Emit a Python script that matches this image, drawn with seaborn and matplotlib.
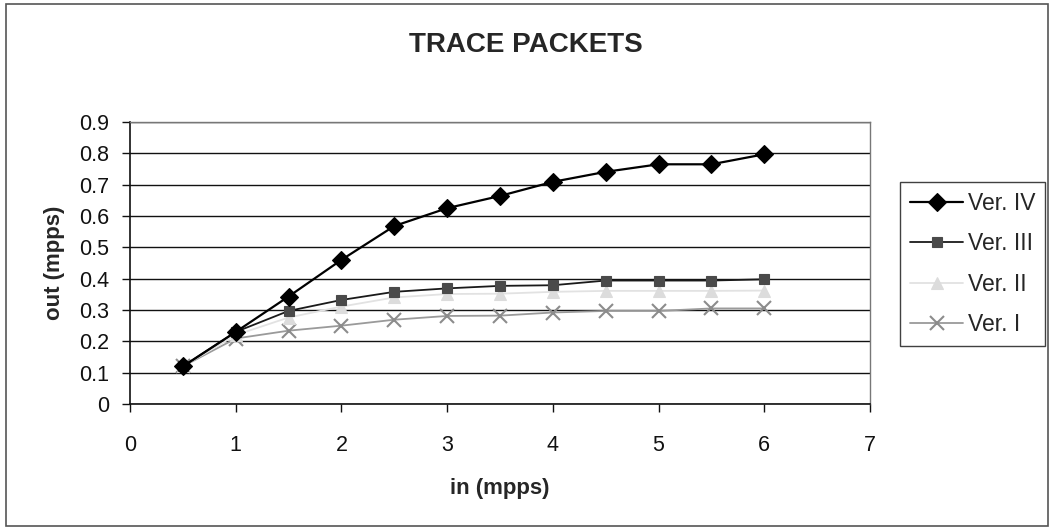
import matplotlib
matplotlib.use("Agg")
import matplotlib.pyplot as plt
import seaborn as sns
import pandas as pd
from matplotlib.patches import Rectangle

# Input rate (mpps) and measured output rate (mpps) for each version
in_mpps = [0.5, 1.0, 1.5, 2.0, 2.5, 3.0, 3.5, 4.0, 4.5, 5.0, 5.5, 6.0]
ver_iv = [0.12, 0.23, 0.343, 0.46, 0.568, 0.625, 0.664, 0.709, 0.741, 0.765, 0.765, 0.797]
ver_iii = [0.12, 0.23, 0.297, 0.332, 0.358, 0.369, 0.377, 0.379, 0.394, 0.394, 0.394, 0.398]
ver_ii = [0.12, 0.22, 0.276, 0.311, 0.34, 0.351, 0.352, 0.358, 0.361, 0.361, 0.361, 0.362]
ver_i = [0.12, 0.209, 0.234, 0.25, 0.269, 0.281, 0.282, 0.292, 0.297, 0.297, 0.305, 0.305]
series_names = ["Ver. IV", "Ver. III", "Ver. II", "Ver. I"]

df = pd.DataFrame({
    "in": in_mpps * 4,
    "out": ver_iv + ver_iii + ver_ii + ver_i,
    "version": sum([[n] * len(in_mpps) for n in series_names], []),
})

sns.set_theme(style="white")
plt.rcParams["font.family"] = ["Liberation Sans", "DejaVu Sans"]

fig = plt.figure(figsize=(10.51, 5.29), dpi=100)
ax = fig.add_axes([130 / 1051, 1 - 404 / 529, 740 / 1051, 282 / 529])

line_colors = {"Ver. IV": "#000000", "Ver. III": "#1a1a1a", "Ver. II": "#e2e2e2", "Ver. I": "#9a9a9a"}
marker_face = {"Ver. IV": "#000000", "Ver. III": "#4a4a4a", "Ver. II": "#dcdcdc", "Ver. I": "#8c8c8c"}
markers = {"Ver. IV": "D", "Ver. III": "s", "Ver. II": "^", "Ver. I": "x"}
sizes = {"Ver. IV": 9, "Ver. III": 7, "Ver. II": 8, "Ver. I": 10}

# draw back to front so the dark series sit on top
for name in ["Ver. I", "Ver. II", "Ver. III", "Ver. IV"]:
    sub = df[df["version"] == name]
    sns.lineplot(data=sub, x="in", y="out", ax=ax, color=line_colors[name],
                 marker=markers[name], markersize=sizes[name],
                 markerfacecolor=marker_face[name], markeredgecolor=marker_face[name],
                 markeredgewidth=1.5 if name == "Ver. I" else 0.8,
                 linewidth=1.6 if name == "Ver. IV" else 1.3,
                 label=name, legend=False)

ax.set_xlim(0, 7)
ax.set_ylim(0, 0.9)
ax.set_xticks(range(0, 8))
ax.set_yticks([i / 10 for i in range(10)])
ax.set_yticklabels(["0"] + [f"{i / 10:.1f}" for i in range(1, 10)])
ax.grid(axis="y", color="#111111", linewidth=1.0)
ax.grid(axis="x", visible=False)
ax.set_axisbelow(True)
for side in ["left", "bottom"]:
    ax.spines[side].set_color("#111111")
    ax.spines[side].set_linewidth(1.2)
for side in ["top", "right"]:
    ax.spines[side].set_color("#777777")
    ax.spines[side].set_linewidth(1.0)
ax.tick_params(axis="both", direction="out", length=6, width=1, color="#111111",
               labelsize=15.5, labelcolor="#111111", bottom=True, left=True)
ax.tick_params(axis="y", pad=9)
ax.tick_params(axis="x", pad=16)
ax.set_xlabel("in (mpps)", fontsize=16, fontweight="bold", labelpad=16)
ax.set_ylabel("out (mpps)", fontsize=16, fontweight="bold", labelpad=10)
fig.text(0.5, 0.915, "TRACE PACKETS", ha="center", va="center",
         fontsize=20, fontweight="bold")

# legend in series order
handles, labels = ax.get_legend_handles_labels()
order = [labels.index(n) for n in series_names]
leg = fig.legend([handles[i] for i in order], [labels[i] for i in order],
                 loc="upper left", bbox_to_anchor=(900 / 1051, 1 - 182 / 529),
                 frameon=True, fancybox=False, fontsize=16.5, handlelength=2.3,
                 labelspacing=0.75, borderpad=0.45, handletextpad=0.2,
                 borderaxespad=0)
leg.get_frame().set_edgecolor("#111111")
leg.get_frame().set_linewidth(1.0)
leg._legend_box.sep = 4

# outer chart border
fig.patches.append(Rectangle((6 / 1051, 3 / 529), 1042 / 1051, 522 / 529,
                             transform=fig.transFigure, fill=False,
                             edgecolor="#555555", linewidth=1.2))

fig.canvas.draw()
# keep the legend frame inside the outer border
bb = leg.get_window_extent()
if bb.x1 > 1046:
    leg.set_bbox_to_anchor(((900 - (bb.x1 - 1045)) / 1051, 1 - 182 / 529),
                           transform=fig.transFigure)

fig.savefig("out.png", dpi=100)
